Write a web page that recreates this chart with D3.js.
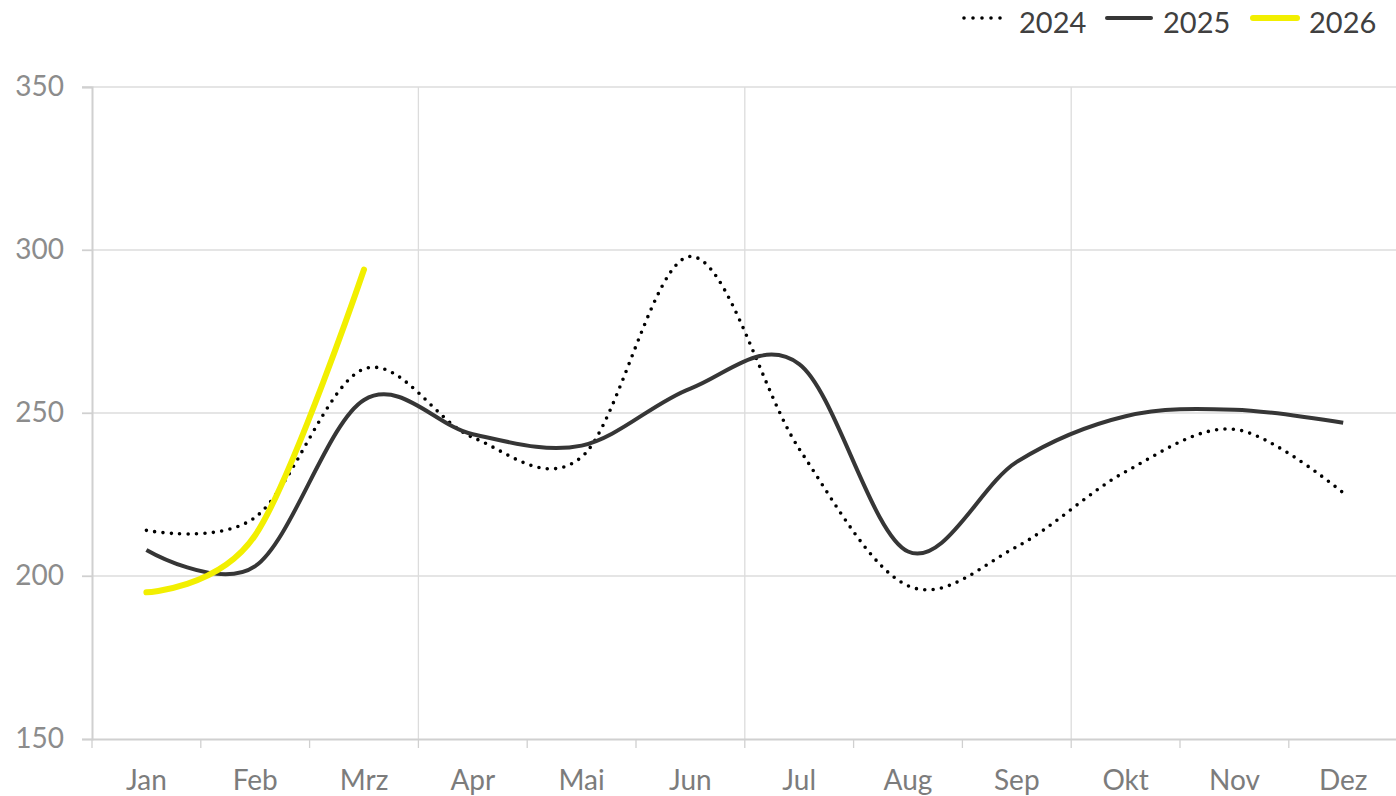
<!DOCTYPE html>
<html>
<head>
<meta charset="utf-8">
<script src="https://cdn.jsdelivr.net/npm/d3@7"></script>
<style>
    body { margin: 0; background: #fff; }
    svg { display: block; font-family: Lato, "Open Sans", sans-serif; }
</style>
</head>
<body>
<svg width="1396" height="796"></svg>
<script>
// Monate und Werte
const months = ['Jan', 'Feb', 'Mrz', 'Apr', 'Mai', 'Jun', 'Jul', 'Aug', 'Sep', 'Okt', 'Nov', 'Dez'];
const values2024 = [214, 218, 263.5, 242.5, 236.5, 298, 239, 197, 209, 232, 245, 225.5];
const values2025 = [208, 203, 254, 243.5, 240, 257.5, 265, 207.5, 235, 249, 251, 247];
const values2026 = [195, 212.5, 294];
const yTicks = [150, 200, 250, 300, 350];

const series = [
    { name: '2024', values: values2024, color: '#000', width: 3.6, dash: '0,8.4', cap: 'round' },
    { name: '2025', values: values2025, color: '#363636', width: 4, dash: null, cap: 'butt' },
    { name: '2026', values: values2026, color: '#f2ef00', width: 6, dash: null, cap: 'round' }
];

const svg = d3.select('svg');
const plotLeft = 92, plotRight = 1397.6, plotTop = 87, plotBottom = 739;

const x = d3.scaleBand().domain(months).range([plotLeft, plotRight]);
const y = d3.scaleLinear().domain([150, 350]).range([plotBottom, plotTop]);

// Gitterlinien horizontal
svg.append('g')
    .selectAll('line')
    .data(yTicks.slice(1))
    .enter().append('line')
    .attr('x1', plotLeft - 10)
    .attr('x2', plotRight)
    .attr('y1', d => y(d))
    .attr('y2', d => y(d))
    .attr('stroke', '#dcdcdc')
    .attr('stroke-width', 1.3);

// Gitterlinien vertikal (jedes Quartal)
svg.append('g')
    .selectAll('line')
    .data([3, 6, 9, 12])
    .enter().append('line')
    .attr('x1', i => plotLeft + i * x.step())
    .attr('x2', i => plotLeft + i * x.step())
    .attr('y1', plotTop)
    .attr('y2', plotBottom)
    .attr('stroke', '#dcdcdc')
    .attr('stroke-width', 1.3);

// Y-Achse
const yAxis = svg.append('g')
    .attr('transform', `translate(${plotLeft},0)`)
    .call(d3.axisLeft(y).tickValues(yTicks).tickSize(10).tickPadding(18));
yAxis.select('.domain').attr('stroke', '#d0d0d0').attr('stroke-width', 2);
yAxis.selectAll('.tick line').attr('stroke', '#d0d0d0').attr('stroke-width', 1.3);
yAxis.selectAll('.tick text')
    .attr('fill', '#8c8c8c')
    .attr('font-size', '28px')
    .attr('font-family', 'Lato, sans-serif');

// X-Achse
const xAxis = svg.append('g')
    .attr('transform', `translate(0,${plotBottom})`)
    .call(d3.axisBottom(x).tickSize(0).tickPadding(31));
xAxis.select('.domain').attr('stroke', '#d0d0d0').attr('stroke-width', 2);
xAxis.selectAll('.tick text')
    .attr('fill', '#7c7c7c')
    .attr('font-size', '28px')
    .attr('font-family', 'Lato, sans-serif');

// Teilstriche zwischen den Monaten
svg.append('g')
    .selectAll('line')
    .data(d3.range(0, 13))
    .enter().append('line')
    .attr('x1', i => plotLeft + i * x.step())
    .attr('x2', i => plotLeft + i * x.step())
    .attr('y1', plotBottom)
    .attr('y2', plotBottom + 9)
    .attr('stroke', '#d0d0d0')
    .attr('stroke-width', 1.3);

// Linien
const line = d3.line()
    .x((d, i) => x(months[i]) + x.bandwidth() / 2)
    .y(d => y(d))
    .curve(d3.curveCatmullRom.alpha(0));

svg.append('g')
    .selectAll('path')
    .data(series)
    .enter().append('path')
    .attr('d', d => line(d.values))
    .attr('fill', 'none')
    .attr('stroke', d => d.color)
    .attr('stroke-width', d => d.width)
    .attr('stroke-dasharray', d => d.dash)
    .attr('stroke-linecap', d => d.cap)
    .attr('stroke-linejoin', 'round');

// Legende
const legendX = [963, 1107, 1253];
const legend = svg.append('g')
    .selectAll('g')
    .data(series)
    .enter().append('g')
    .attr('transform', (d, i) => `translate(${legendX[i]},0)`);

legend.append('line')
    .attr('x1', d => d.dash ? 1 : 0)
    .attr('x2', 44)
    .attr('y1', 18)
    .attr('y2', 18)
    .attr('stroke', d => d.color)
    .attr('stroke-width', d => d.width)
    .attr('stroke-dasharray', d => d.dash ? '0,9' : null)
    .attr('stroke-linecap', 'round');

legend.append('text')
    .attr('x', 56)
    .attr('y', 33)
    .attr('fill', '#404040')
    .attr('font-size', '29px')
    .text(d => d.name);
</script>
</body>
</html>
